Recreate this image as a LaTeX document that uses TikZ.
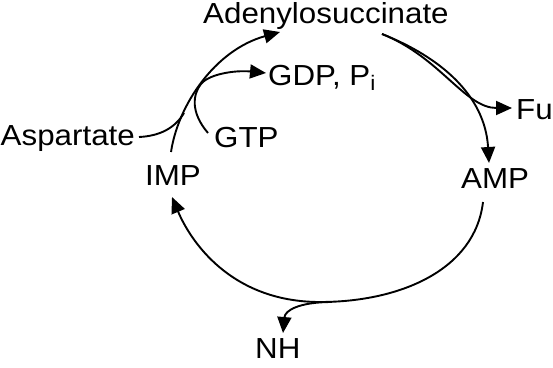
\documentclass[tikz,border=0pt]{standalone}
\usepackage{fontspec}
\setmainfont{Liberation Sans}[FakeStretch=1.08]
\usetikzlibrary{arrows.meta}
\tikzset{
  lbl/.style={inner sep=0pt, font=\fontsize{29}{34}\selectfont},
  conn/.style={line width=1.9pt, -{Triangle[length=16pt,width=14pt]}},
  plain/.style={line width=1.9pt}
}
\begin{document}
\begin{tikzpicture}[x=1pt,y=-1pt]
\useasboundingbox (0,0) rectangle (553,367);
% labels
\node[lbl, anchor=base west] (ade) at (203,23) {Adenylosuccinate};
\node[lbl, anchor=base west] (gdp) at (268,85) {GDP, P\raisebox{-5pt}{\fontsize{21}{21}\selectfont i}};
\node[lbl, anchor=base west] (fu) at (516,119) {Fu};
\node[lbl, anchor=base east] (asp) at (135,145) {Aspartate};
\node[lbl, anchor=base west] (gtp) at (214,147) {GTP};
\node[lbl, anchor=base west] (imp) at (145,185) {IMP};
\node[lbl, anchor=base west] (amp) at (461,188) {AMP};
\node[lbl, anchor=base west] (nh) at (255,358) {NH};
% connector end points
\coordinate (impTop) at (171,152);
\coordinate (adeIn) at (280,32);
\coordinate (aspEnd) at (139,137);
\coordinate (join) at (184,113);
\coordinate (gtpEnd) at (208,133);
\coordinate (merge) at (201,84);
\coordinate (gdpIn) at (266,73);
\coordinate (adeOut) at (382,34);
\coordinate (ampIn) at (489,163);
\coordinate (fuIn) at (512,108);
\coordinate (ampOut) at (483,202);
\coordinate (bottom) at (320,302);
\coordinate (impIn) at (172,197);
\coordinate (nhStart) at (332,302);
\coordinate (nhIn) at (283,333);
% IMP -> Adenylosuccinate
\draw[conn] (impTop) .. controls (178,105) and (215,50) .. (adeIn);
\draw[plain] (aspEnd) .. controls (160,136) and (175,128) .. (join);
\draw[conn] (gtpEnd) .. controls (190,112) and (193,94) .. (merge)
  .. controls (209,74) and (235,70) .. (gdpIn);
% Adenylosuccinate -> AMP
\draw[conn] (adeOut) .. controls (440,57) and (485,95) .. (ampIn);
\draw[conn] (adeOut) .. controls (440,57) and (465,108) .. (fuIn);
% AMP -> IMP
\draw[plain] (ampOut) .. controls (475,270) and (400,302) .. (bottom);
\draw[conn] (bottom) .. controls (230,302) and (190,240) .. (impIn);
\draw[conn] (nhStart) .. controls (300,302) and (285,310) .. (nhIn);
\end{tikzpicture}
\end{document}
